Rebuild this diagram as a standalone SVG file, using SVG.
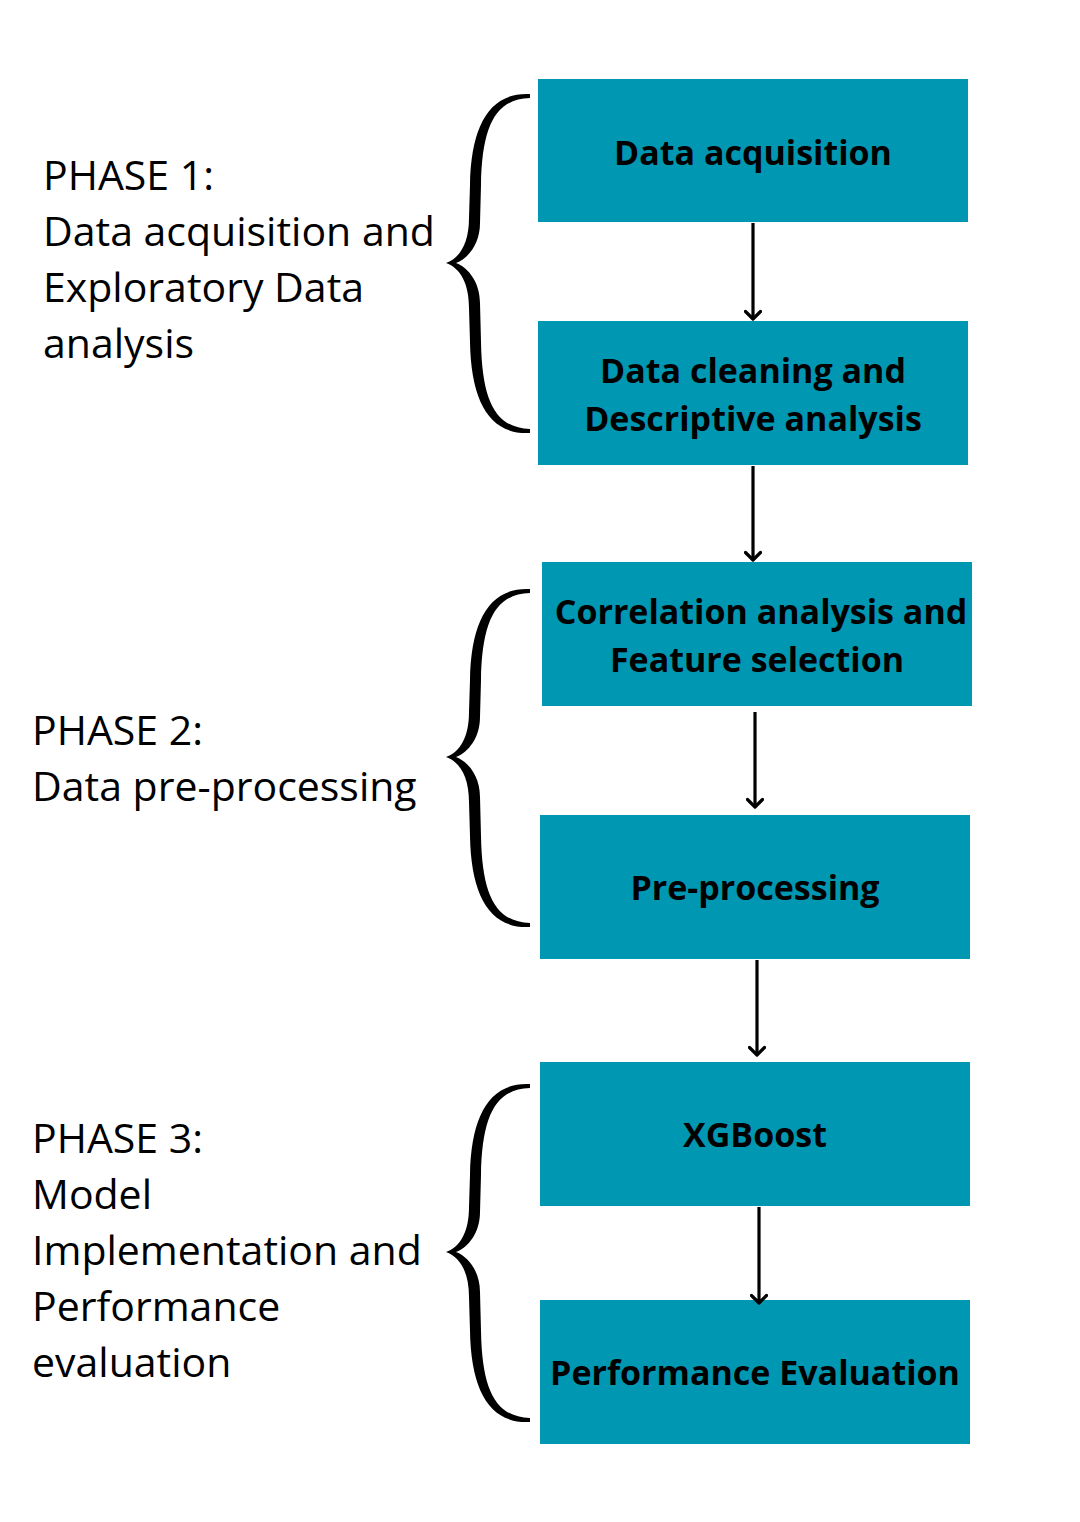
<svg xmlns="http://www.w3.org/2000/svg" width="1080" height="1522" viewBox="0 0 1080 1522">
<defs>
<style>
.box{fill:#0097b2}
.bt{font-family:"Open Sans","Noto Sans",sans-serif;font-weight:700;font-size:34px;fill:#000;text-anchor:middle}
.pt{font-family:"Open Sans","Noto Sans",sans-serif;font-size:41px;fill:#000}
.con{stroke:#000;stroke-width:3.2;fill:none}
.brace{fill:#000}
</style>
<marker id="ah" viewBox="0 0 18 18" refX="10" refY="9" markerWidth="18" markerHeight="18" markerUnits="userSpaceOnUse" orient="auto">
<path d="M2.5,1.5 L10,9 L2.5,16.5" fill="none" stroke="#000" stroke-width="3.2" stroke-linecap="round" stroke-linejoin="round"/>
</marker>
</defs>
<rect width="1080" height="1522" fill="#fff"/>
<g id="phase1">
<text class="pt" x="43" y="190">PHASE 1:</text>
<text class="pt" x="43" y="246">Data acquisition and</text>
<text class="pt" x="43" y="302">Exploratory Data</text>
<text class="pt" x="43" y="358">analysis</text>
<path class="brace" d="M530,94 C490,92 471,125 470,185 L469,218 C469,243 460,258 446,263 C460,268 469,283 469,308 L470,342 C471,402 490,435 530,433 L530,429 C496,428 482,402 481,342 L480,303 C480,283 469,268 456,263 C469,258 480,243 480,223 L481,185 C482,125 496,99 530,98 Z"/>
</g>
<g id="phase2">
<text class="pt" x="32" y="745">PHASE 2:</text>
<text class="pt" x="32" y="801">Data pre-processing</text>
<path class="brace" d="M530,589 C490,587 471,620 470,680 L469,712 C469,737 460,752 446,757 C460,762 469,777 469,802 L470,836 C471,896 490,929 530,927 L530,923 C496,922 482,896 481,836 L480,797 C480,777 469,762 456,757 C469,752 480,737 480,717 L481,680 C482,620 496,594 530,593 Z"/>
</g>
<g id="phase3">
<text class="pt" x="32" y="1153">PHASE 3:</text>
<text class="pt" x="32" y="1209">Model</text>
<text class="pt" x="32" y="1265">Implementation and</text>
<text class="pt" x="32" y="1321">Performance</text>
<text class="pt" x="32" y="1377">evaluation</text>
<path class="brace" d="M530,1084 C490,1082 471,1115 470,1175 L469,1207 C469,1232 460,1247 446,1252 C460,1257 469,1272 469,1297 L470,1331 C471,1391 490,1424 530,1422 L530,1418 C496,1417 482,1391 481,1331 L480,1292 C480,1272 469,1257 456,1252 C469,1247 480,1232 480,1212 L481,1175 C482,1115 496,1089 530,1088 Z"/>
</g>
<g id="n1"><rect class="box" x="538" y="79" width="430" height="143"/><text class="bt" x="753" y="165">Data acquisition</text></g>
<g id="n2"><rect class="box" x="538" y="321" width="430" height="144"/><text class="bt" x="753" y="383">Data cleaning and</text><text class="bt" x="753" y="431">Descriptive analysis</text></g>
<g id="n3"><rect class="box" x="542" y="562" width="430" height="144"/><text class="bt" x="761" y="624">Correlation analysis and</text><text class="bt" x="757" y="672">Feature selection</text></g>
<g id="n4"><rect class="box" x="540" y="815" width="430" height="144"/><text class="bt" x="755" y="900">Pre-processing</text></g>
<g id="n5"><rect class="box" x="540" y="1062" width="430" height="144"/><text class="bt" x="755" y="1147">XGBoost</text></g>
<g id="n6"><rect class="box" x="540" y="1300" width="430" height="144"/><text class="bt" x="755" y="1385">Performance Evaluation</text></g>
<g id="connectors">
<line class="con" x1="753" y1="223" x2="753" y2="319" marker-end="url(#ah)"/>
<line class="con" x1="753" y1="466" x2="753" y2="560" marker-end="url(#ah)"/>
<line class="con" x1="755" y1="712" x2="755" y2="807" marker-end="url(#ah)"/>
<line class="con" x1="757" y1="960" x2="757" y2="1055" marker-end="url(#ah)"/>
<line class="con" x1="759" y1="1207" x2="759" y2="1303" marker-end="url(#ah)"/>
</g>
</svg>
